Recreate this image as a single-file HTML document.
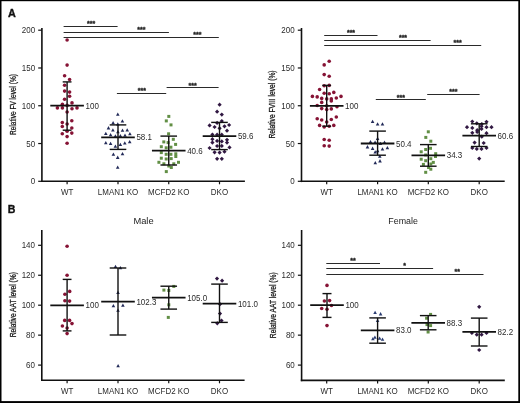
<!DOCTYPE html>
<html><head><meta charset="utf-8"><title>Figure</title>
<style>
html,body{margin:0;padding:0;background:#fff;}
body{width:520px;height:403px;overflow:hidden;}
svg{display:block;font-family:"Liberation Sans", sans-serif;filter:blur(0.3px);}
</style></head>
<body>
<svg width="520" height="403" viewBox="0 0 520 403">
<rect x="0" y="0" width="520" height="403" fill="#fff"/>
<text x="8.00" y="17.00" font-size="10.8" text-anchor="start" font-weight="bold" fill="#111" stroke="#111" stroke-width="0.35">A</text>
<text x="7.80" y="212.80" font-size="10.6" text-anchor="start" font-weight="bold" fill="#111" stroke="#111" stroke-width="0.35">B</text>
<line x1="41.90" y1="28.00" x2="41.90" y2="182.10" stroke="#111" stroke-width="1.6"/>
<line x1="41.10" y1="181.30" x2="244.90" y2="181.30" stroke="#111" stroke-width="1.6"/>
<line x1="38.20" y1="181.30" x2="41.90" y2="181.30" stroke="#111" stroke-width="1.2"/>
<text transform="translate(35.10,184.30) scale(0.93,1)" x="0" y="0" font-size="8.6" text-anchor="end" font-weight="normal" fill="#2a2a2a" >0</text>
<line x1="38.20" y1="143.53" x2="41.90" y2="143.53" stroke="#111" stroke-width="1.2"/>
<text transform="translate(35.10,146.53) scale(0.93,1)" x="0" y="0" font-size="8.6" text-anchor="end" font-weight="normal" fill="#2a2a2a" >50</text>
<line x1="38.20" y1="105.75" x2="41.90" y2="105.75" stroke="#111" stroke-width="1.2"/>
<text transform="translate(35.10,108.75) scale(0.93,1)" x="0" y="0" font-size="8.6" text-anchor="end" font-weight="normal" fill="#2a2a2a" >100</text>
<line x1="38.20" y1="67.98" x2="41.90" y2="67.98" stroke="#111" stroke-width="1.2"/>
<text transform="translate(35.10,70.98) scale(0.93,1)" x="0" y="0" font-size="8.6" text-anchor="end" font-weight="normal" fill="#2a2a2a" >150</text>
<line x1="38.20" y1="30.20" x2="41.90" y2="30.20" stroke="#111" stroke-width="1.2"/>
<text transform="translate(35.10,33.20) scale(0.93,1)" x="0" y="0" font-size="8.6" text-anchor="end" font-weight="normal" fill="#2a2a2a" >200</text>
<line x1="67.10" y1="181.30" x2="67.10" y2="184.30" stroke="#111" stroke-width="1.2"/>
<text transform="translate(67.10,194.70) scale(0.93,1)" x="0" y="0" font-size="8.6" text-anchor="middle" font-weight="normal" fill="#2a2a2a" >WT</text>
<line x1="118.00" y1="181.30" x2="118.00" y2="184.30" stroke="#111" stroke-width="1.2"/>
<text transform="translate(118.00,194.70) scale(0.93,1)" x="0" y="0" font-size="8.6" text-anchor="middle" font-weight="normal" fill="#2a2a2a" >LMAN1 KO</text>
<line x1="168.75" y1="181.30" x2="168.75" y2="184.30" stroke="#111" stroke-width="1.2"/>
<text transform="translate(168.75,194.70) scale(0.93,1)" x="0" y="0" font-size="8.6" text-anchor="middle" font-weight="normal" fill="#2a2a2a" >MCFD2 KO</text>
<line x1="219.50" y1="181.30" x2="219.50" y2="184.30" stroke="#111" stroke-width="1.2"/>
<text transform="translate(219.50,194.70) scale(0.93,1)" x="0" y="0" font-size="8.6" text-anchor="middle" font-weight="normal" fill="#2a2a2a" >DKO</text>
<text x="0" y="0" font-size="8.4" text-anchor="middle" fill="#1a1a1a" stroke="#1a1a1a" stroke-width="0.28" textLength="60.9" lengthAdjust="spacingAndGlyphs" transform="translate(15.90,104.50) rotate(-90)">Relative FV level (%)</text>
<line x1="301.50" y1="28.00" x2="301.50" y2="182.10" stroke="#111" stroke-width="1.6"/>
<line x1="300.70" y1="181.30" x2="504.70" y2="181.30" stroke="#111" stroke-width="1.6"/>
<line x1="297.80" y1="181.30" x2="301.50" y2="181.30" stroke="#111" stroke-width="1.2"/>
<text transform="translate(294.70,184.30) scale(0.93,1)" x="0" y="0" font-size="8.6" text-anchor="end" font-weight="normal" fill="#2a2a2a" >0</text>
<line x1="297.80" y1="143.53" x2="301.50" y2="143.53" stroke="#111" stroke-width="1.2"/>
<text transform="translate(294.70,146.53) scale(0.93,1)" x="0" y="0" font-size="8.6" text-anchor="end" font-weight="normal" fill="#2a2a2a" >50</text>
<line x1="297.80" y1="105.75" x2="301.50" y2="105.75" stroke="#111" stroke-width="1.2"/>
<text transform="translate(294.70,108.75) scale(0.93,1)" x="0" y="0" font-size="8.6" text-anchor="end" font-weight="normal" fill="#2a2a2a" >100</text>
<line x1="297.80" y1="67.98" x2="301.50" y2="67.98" stroke="#111" stroke-width="1.2"/>
<text transform="translate(294.70,70.98) scale(0.93,1)" x="0" y="0" font-size="8.6" text-anchor="end" font-weight="normal" fill="#2a2a2a" >150</text>
<line x1="297.80" y1="30.20" x2="301.50" y2="30.20" stroke="#111" stroke-width="1.2"/>
<text transform="translate(294.70,33.20) scale(0.93,1)" x="0" y="0" font-size="8.6" text-anchor="end" font-weight="normal" fill="#2a2a2a" >200</text>
<line x1="326.70" y1="181.30" x2="326.70" y2="184.30" stroke="#111" stroke-width="1.2"/>
<text transform="translate(326.70,194.70) scale(0.93,1)" x="0" y="0" font-size="8.6" text-anchor="middle" font-weight="normal" fill="#2a2a2a" >WT</text>
<line x1="377.60" y1="181.30" x2="377.60" y2="184.30" stroke="#111" stroke-width="1.2"/>
<text transform="translate(377.60,194.70) scale(0.93,1)" x="0" y="0" font-size="8.6" text-anchor="middle" font-weight="normal" fill="#2a2a2a" >LMAN1 KO</text>
<line x1="428.30" y1="181.30" x2="428.30" y2="184.30" stroke="#111" stroke-width="1.2"/>
<text transform="translate(428.30,194.70) scale(0.93,1)" x="0" y="0" font-size="8.6" text-anchor="middle" font-weight="normal" fill="#2a2a2a" >MCFD2 KO</text>
<line x1="479.20" y1="181.30" x2="479.20" y2="184.30" stroke="#111" stroke-width="1.2"/>
<text transform="translate(479.20,194.70) scale(0.93,1)" x="0" y="0" font-size="8.6" text-anchor="middle" font-weight="normal" fill="#2a2a2a" >DKO</text>
<text x="0" y="0" font-size="8.4" text-anchor="middle" fill="#1a1a1a" stroke="#1a1a1a" stroke-width="0.28" textLength="68.2" lengthAdjust="spacingAndGlyphs" transform="translate(275.20,104.50) rotate(-90)">Relative FVIII level (%)</text>
<line x1="63.60" y1="26.50" x2="117.60" y2="26.50" stroke="#2a2a2a" stroke-width="1.15"/>
<text x="91.20" y="26.30" font-size="7" text-anchor="middle" font-weight="bold" fill="#222" stroke="#222" stroke-width="0.3">***</text>
<line x1="63.60" y1="32.50" x2="168.90" y2="32.50" stroke="#2a2a2a" stroke-width="1.15"/>
<text x="141.40" y="31.70" font-size="7" text-anchor="middle" font-weight="bold" fill="#222" stroke="#222" stroke-width="0.3">***</text>
<line x1="63.60" y1="37.50" x2="218.80" y2="37.50" stroke="#2a2a2a" stroke-width="1.15"/>
<text x="197.40" y="36.90" font-size="7" text-anchor="middle" font-weight="bold" fill="#222" stroke="#222" stroke-width="0.3">***</text>
<line x1="116.90" y1="93.50" x2="166.20" y2="93.50" stroke="#2a2a2a" stroke-width="1.15"/>
<text x="141.80" y="93.30" font-size="7" text-anchor="middle" font-weight="bold" fill="#222" stroke="#222" stroke-width="0.3">***</text>
<line x1="166.60" y1="87.50" x2="218.60" y2="87.50" stroke="#2a2a2a" stroke-width="1.15"/>
<text x="192.60" y="87.50" font-size="7" text-anchor="middle" font-weight="bold" fill="#222" stroke="#222" stroke-width="0.3">***</text>
<line x1="324.20" y1="35.50" x2="377.50" y2="35.50" stroke="#2a2a2a" stroke-width="1.15"/>
<text x="351.00" y="34.80" font-size="7" text-anchor="middle" font-weight="bold" fill="#222" stroke="#222" stroke-width="0.3">***</text>
<line x1="324.20" y1="40.50" x2="430.60" y2="40.50" stroke="#2a2a2a" stroke-width="1.15"/>
<text x="403.00" y="39.70" font-size="7" text-anchor="middle" font-weight="bold" fill="#222" stroke="#222" stroke-width="0.3">***</text>
<line x1="324.20" y1="45.50" x2="481.20" y2="45.50" stroke="#2a2a2a" stroke-width="1.15"/>
<text x="457.60" y="45.10" font-size="7" text-anchor="middle" font-weight="bold" fill="#222" stroke="#222" stroke-width="0.3">***</text>
<line x1="375.80" y1="99.50" x2="425.80" y2="99.50" stroke="#2a2a2a" stroke-width="1.15"/>
<text x="400.80" y="99.50" font-size="7" text-anchor="middle" font-weight="bold" fill="#222" stroke="#222" stroke-width="0.3">***</text>
<line x1="427.20" y1="94.50" x2="479.60" y2="94.50" stroke="#2a2a2a" stroke-width="1.15"/>
<text x="453.40" y="94.00" font-size="7" text-anchor="middle" font-weight="bold" fill="#222" stroke="#222" stroke-width="0.3">***</text>
<circle cx="67.10" cy="40.00" r="1.8" fill="#861335"/>
<circle cx="67.10" cy="65.10" r="1.8" fill="#861335"/>
<circle cx="64.60" cy="75.70" r="1.8" fill="#861335"/>
<circle cx="69.60" cy="79.50" r="1.8" fill="#861335"/>
<circle cx="64.60" cy="85.20" r="1.8" fill="#861335"/>
<circle cx="64.60" cy="91.10" r="1.8" fill="#861335"/>
<circle cx="69.60" cy="92.10" r="1.8" fill="#861335"/>
<circle cx="69.60" cy="96.30" r="1.8" fill="#861335"/>
<circle cx="64.60" cy="99.20" r="1.8" fill="#861335"/>
<circle cx="72.00" cy="102.90" r="1.8" fill="#861335"/>
<circle cx="62.40" cy="104.20" r="1.8" fill="#861335"/>
<circle cx="67.10" cy="105.40" r="1.8" fill="#861335"/>
<circle cx="57.40" cy="107.90" r="1.8" fill="#861335"/>
<circle cx="62.40" cy="107.90" r="1.8" fill="#861335"/>
<circle cx="72.00" cy="108.70" r="1.8" fill="#861335"/>
<circle cx="77.00" cy="107.90" r="1.8" fill="#861335"/>
<circle cx="67.10" cy="112.00" r="1.8" fill="#861335"/>
<circle cx="71.80" cy="120.70" r="1.8" fill="#861335"/>
<circle cx="62.30" cy="122.60" r="1.8" fill="#861335"/>
<circle cx="67.10" cy="124.00" r="1.8" fill="#861335"/>
<circle cx="62.30" cy="126.50" r="1.8" fill="#861335"/>
<circle cx="71.80" cy="128.00" r="1.8" fill="#861335"/>
<circle cx="67.10" cy="131.30" r="1.8" fill="#861335"/>
<circle cx="62.30" cy="133.80" r="1.8" fill="#861335"/>
<circle cx="71.80" cy="133.10" r="1.8" fill="#861335"/>
<circle cx="67.10" cy="136.60" r="1.8" fill="#861335"/>
<circle cx="67.10" cy="143.30" r="1.8" fill="#861335"/>
<path d="M117.80,112.51L119.60,115.82L116.00,115.82Z" fill="#222a58"/>
<path d="M122.40,119.21L124.20,122.52L120.60,122.52Z" fill="#222a58"/>
<path d="M113.10,121.01L114.90,124.32L111.30,124.32Z" fill="#222a58"/>
<path d="M117.80,122.31L119.60,125.62L116.00,125.62Z" fill="#222a58"/>
<path d="M108.50,126.11L110.30,129.42L106.70,129.42Z" fill="#222a58"/>
<path d="M112.90,128.31L114.70,131.62L111.10,131.62Z" fill="#222a58"/>
<path d="M117.90,129.91L119.70,133.22L116.10,133.22Z" fill="#222a58"/>
<path d="M122.50,128.51L124.30,131.82L120.70,131.82Z" fill="#222a58"/>
<path d="M127.20,128.21L129.00,131.52L125.40,131.52Z" fill="#222a58"/>
<path d="M105.80,131.71L107.60,135.02L104.00,135.02Z" fill="#222a58"/>
<path d="M110.60,132.91L112.40,136.22L108.80,136.22Z" fill="#222a58"/>
<path d="M115.40,134.21L117.20,137.52L113.60,137.52Z" fill="#222a58"/>
<path d="M120.40,133.91L122.20,137.22L118.60,137.22Z" fill="#222a58"/>
<path d="M125.00,133.41L126.80,136.72L123.20,136.72Z" fill="#222a58"/>
<path d="M129.90,131.91L131.70,135.22L128.10,135.22Z" fill="#222a58"/>
<path d="M105.80,141.01L107.60,144.32L104.00,144.32Z" fill="#222a58"/>
<path d="M110.60,141.81L112.40,145.12L108.80,145.12Z" fill="#222a58"/>
<path d="M115.40,144.41L117.20,147.72L113.60,147.72Z" fill="#222a58"/>
<path d="M120.40,142.81L122.20,146.12L118.60,146.12Z" fill="#222a58"/>
<path d="M124.80,141.31L126.60,144.62L123.00,144.62Z" fill="#222a58"/>
<path d="M129.70,140.01L131.50,143.32L127.90,143.32Z" fill="#222a58"/>
<path d="M113.40,152.41L115.20,155.72L111.60,155.72Z" fill="#222a58"/>
<path d="M122.50,152.01L124.30,155.32L120.70,155.32Z" fill="#222a58"/>
<path d="M117.70,155.61L119.50,158.92L115.90,158.92Z" fill="#222a58"/>
<path d="M117.70,165.51L119.50,168.82L115.90,168.82Z" fill="#222a58"/>
<rect x="167.30" y="114.90" width="3.0" height="3.0" fill="#628f45"/>
<rect x="164.80" y="119.40" width="3.0" height="3.0" fill="#628f45"/>
<rect x="169.50" y="123.40" width="3.0" height="3.0" fill="#628f45"/>
<rect x="167.10" y="132.30" width="3.0" height="3.0" fill="#628f45"/>
<rect x="171.80" y="137.80" width="3.0" height="3.0" fill="#628f45"/>
<rect x="162.30" y="140.40" width="3.0" height="3.0" fill="#628f45"/>
<rect x="166.60" y="141.10" width="3.0" height="3.0" fill="#628f45"/>
<rect x="174.10" y="142.90" width="3.0" height="3.0" fill="#628f45"/>
<rect x="159.80" y="145.20" width="3.0" height="3.0" fill="#628f45"/>
<rect x="164.70" y="146.30" width="3.0" height="3.0" fill="#628f45"/>
<rect x="169.40" y="145.70" width="3.0" height="3.0" fill="#628f45"/>
<rect x="159.80" y="151.10" width="3.0" height="3.0" fill="#628f45"/>
<rect x="164.70" y="152.80" width="3.0" height="3.0" fill="#628f45"/>
<rect x="169.40" y="152.80" width="3.0" height="3.0" fill="#628f45"/>
<rect x="174.30" y="152.30" width="3.0" height="3.0" fill="#628f45"/>
<rect x="174.30" y="155.00" width="3.0" height="3.0" fill="#628f45"/>
<rect x="159.80" y="156.70" width="3.0" height="3.0" fill="#628f45"/>
<rect x="164.70" y="157.50" width="3.0" height="3.0" fill="#628f45"/>
<rect x="169.70" y="157.10" width="3.0" height="3.0" fill="#628f45"/>
<rect x="157.40" y="160.80" width="3.0" height="3.0" fill="#628f45"/>
<rect x="177.00" y="160.80" width="3.0" height="3.0" fill="#628f45"/>
<rect x="162.40" y="162.30" width="3.0" height="3.0" fill="#628f45"/>
<rect x="172.30" y="162.30" width="3.0" height="3.0" fill="#628f45"/>
<rect x="167.30" y="164.50" width="3.0" height="3.0" fill="#628f45"/>
<rect x="169.80" y="166.00" width="3.0" height="3.0" fill="#628f45"/>
<rect x="164.80" y="170.10" width="3.0" height="3.0" fill="#628f45"/>
<path d="M219.60,102.60L221.70,104.70L219.60,106.80L217.50,104.70Z" fill="#311842"/>
<path d="M217.10,109.60L219.20,111.70L217.10,113.80L215.00,111.70Z" fill="#311842"/>
<path d="M221.80,112.50L223.90,114.60L221.80,116.70L219.70,114.60Z" fill="#311842"/>
<path d="M221.80,119.00L223.90,121.10L221.80,123.20L219.70,121.10Z" fill="#311842"/>
<path d="M217.10,120.80L219.20,122.90L217.10,125.00L215.00,122.90Z" fill="#311842"/>
<path d="M209.60,123.30L211.70,125.40L209.60,127.50L207.50,125.40Z" fill="#311842"/>
<path d="M214.60,124.90L216.70,127.00L214.60,129.10L212.50,127.00Z" fill="#311842"/>
<path d="M224.50,124.20L226.60,126.30L224.50,128.40L222.40,126.30Z" fill="#311842"/>
<path d="M229.10,122.90L231.20,125.00L229.10,127.10L227.00,125.00Z" fill="#311842"/>
<path d="M219.60,126.20L221.70,128.30L219.60,130.40L217.50,128.30Z" fill="#311842"/>
<path d="M227.00,128.60L229.10,130.70L227.00,132.80L224.90,130.70Z" fill="#311842"/>
<path d="M212.40,132.40L214.50,134.50L212.40,136.60L210.30,134.50Z" fill="#311842"/>
<path d="M217.10,132.60L219.20,134.70L217.10,136.80L215.00,134.70Z" fill="#311842"/>
<path d="M221.80,132.60L223.90,134.70L221.80,136.80L219.70,134.70Z" fill="#311842"/>
<path d="M212.40,137.10L214.50,139.20L212.40,141.30L210.30,139.20Z" fill="#311842"/>
<path d="M217.10,138.80L219.20,140.90L217.10,143.00L215.00,140.90Z" fill="#311842"/>
<path d="M221.80,139.30L223.90,141.40L221.80,143.50L219.70,141.40Z" fill="#311842"/>
<path d="M227.00,137.70L229.10,139.80L227.00,141.90L224.90,139.80Z" fill="#311842"/>
<path d="M212.40,140.50L214.50,142.60L212.40,144.70L210.30,142.60Z" fill="#311842"/>
<path d="M227.00,140.50L229.10,142.60L227.00,144.70L224.90,142.60Z" fill="#311842"/>
<path d="M217.10,143.90L219.20,146.00L217.10,148.10L215.00,146.00Z" fill="#311842"/>
<path d="M221.80,143.80L223.90,145.90L221.80,148.00L219.70,145.90Z" fill="#311842"/>
<path d="M209.60,145.90L211.70,148.00L209.60,150.10L207.50,148.00Z" fill="#311842"/>
<path d="M229.50,145.30L231.60,147.40L229.50,149.50L227.40,147.40Z" fill="#311842"/>
<path d="M214.60,150.20L216.70,152.30L214.60,154.40L212.50,152.30Z" fill="#311842"/>
<path d="M219.60,150.50L221.70,152.60L219.60,154.70L217.50,152.60Z" fill="#311842"/>
<path d="M224.50,149.60L226.60,151.70L224.50,153.80L222.40,151.70Z" fill="#311842"/>
<path d="M217.10,156.70L219.20,158.80L217.10,160.90L215.00,158.80Z" fill="#311842"/>
<path d="M221.80,156.70L223.90,158.80L221.80,160.90L219.70,158.80Z" fill="#311842"/>
<circle cx="329.20" cy="61.20" r="1.8" fill="#861335"/>
<circle cx="324.20" cy="64.90" r="1.8" fill="#861335"/>
<circle cx="324.20" cy="74.60" r="1.8" fill="#861335"/>
<circle cx="329.20" cy="76.30" r="1.8" fill="#861335"/>
<circle cx="324.20" cy="85.70" r="1.8" fill="#861335"/>
<circle cx="329.20" cy="85.40" r="1.8" fill="#861335"/>
<circle cx="319.60" cy="89.50" r="1.8" fill="#861335"/>
<circle cx="324.20" cy="93.20" r="1.8" fill="#861335"/>
<circle cx="329.20" cy="93.70" r="1.8" fill="#861335"/>
<circle cx="333.80" cy="92.40" r="1.8" fill="#861335"/>
<circle cx="312.40" cy="96.40" r="1.8" fill="#861335"/>
<circle cx="317.20" cy="96.90" r="1.8" fill="#861335"/>
<circle cx="341.00" cy="96.40" r="1.8" fill="#861335"/>
<circle cx="336.30" cy="98.00" r="1.8" fill="#861335"/>
<circle cx="321.70" cy="98.40" r="1.8" fill="#861335"/>
<circle cx="326.70" cy="98.90" r="1.8" fill="#861335"/>
<circle cx="331.30" cy="98.90" r="1.8" fill="#861335"/>
<circle cx="331.30" cy="100.90" r="1.8" fill="#861335"/>
<circle cx="321.70" cy="102.40" r="1.8" fill="#861335"/>
<circle cx="317.20" cy="105.50" r="1.8" fill="#861335"/>
<circle cx="337.00" cy="106.70" r="1.8" fill="#861335"/>
<circle cx="326.70" cy="105.90" r="1.8" fill="#861335"/>
<circle cx="321.70" cy="108.60" r="1.8" fill="#861335"/>
<circle cx="326.70" cy="109.60" r="1.8" fill="#861335"/>
<circle cx="331.30" cy="108.90" r="1.8" fill="#861335"/>
<circle cx="317.20" cy="118.80" r="1.8" fill="#861335"/>
<circle cx="321.70" cy="120.00" r="1.8" fill="#861335"/>
<circle cx="331.30" cy="119.50" r="1.8" fill="#861335"/>
<circle cx="336.30" cy="117.00" r="1.8" fill="#861335"/>
<circle cx="326.70" cy="122.00" r="1.8" fill="#861335"/>
<circle cx="319.60" cy="125.40" r="1.8" fill="#861335"/>
<circle cx="324.20" cy="127.00" r="1.8" fill="#861335"/>
<circle cx="329.20" cy="126.20" r="1.8" fill="#861335"/>
<circle cx="333.80" cy="125.40" r="1.8" fill="#861335"/>
<circle cx="324.20" cy="139.50" r="1.8" fill="#861335"/>
<circle cx="329.20" cy="140.30" r="1.8" fill="#861335"/>
<circle cx="324.20" cy="145.80" r="1.8" fill="#861335"/>
<circle cx="329.20" cy="146.10" r="1.8" fill="#861335"/>
<path d="M372.60,119.81L374.40,123.12L370.80,123.12Z" fill="#222a58"/>
<path d="M377.60,122.31L379.40,125.62L375.80,125.62Z" fill="#222a58"/>
<path d="M382.50,122.31L384.30,125.62L380.70,125.62Z" fill="#222a58"/>
<path d="M377.60,136.81L379.40,140.12L375.80,140.12Z" fill="#222a58"/>
<path d="M370.50,140.01L372.30,143.32L368.70,143.32Z" fill="#222a58"/>
<path d="M375.10,140.51L376.90,143.82L373.30,143.82Z" fill="#222a58"/>
<path d="M384.50,140.51L386.30,143.82L382.70,143.82Z" fill="#222a58"/>
<path d="M380.40,141.71L382.20,145.02L378.60,145.02Z" fill="#222a58"/>
<path d="M367.50,145.11L369.30,148.42L365.70,148.42Z" fill="#222a58"/>
<path d="M372.60,146.61L374.40,149.92L370.80,149.92Z" fill="#222a58"/>
<path d="M382.50,147.31L384.30,150.62L380.70,150.62Z" fill="#222a58"/>
<path d="M387.40,146.01L389.20,149.32L385.60,149.32Z" fill="#222a58"/>
<path d="M375.20,150.21L377.00,153.52L373.40,153.52Z" fill="#222a58"/>
<path d="M377.60,149.01L379.40,152.32L375.80,152.32Z" fill="#222a58"/>
<path d="M379.80,154.41L381.60,157.72L378.00,157.72Z" fill="#222a58"/>
<path d="M375.30,160.91L377.10,164.22L373.50,164.22Z" fill="#222a58"/>
<path d="M380.00,159.11L381.80,162.42L378.20,162.42Z" fill="#222a58"/>
<rect x="426.80" y="130.30" width="3.0" height="3.0" fill="#628f45"/>
<rect x="424.30" y="135.90" width="3.0" height="3.0" fill="#628f45"/>
<rect x="429.30" y="139.70" width="3.0" height="3.0" fill="#628f45"/>
<rect x="429.00" y="146.80" width="3.0" height="3.0" fill="#628f45"/>
<rect x="424.20" y="148.00" width="3.0" height="3.0" fill="#628f45"/>
<rect x="419.70" y="150.30" width="3.0" height="3.0" fill="#628f45"/>
<rect x="434.20" y="152.20" width="3.0" height="3.0" fill="#628f45"/>
<rect x="434.00" y="155.00" width="3.0" height="3.0" fill="#628f45"/>
<rect x="424.20" y="153.50" width="3.0" height="3.0" fill="#628f45"/>
<rect x="419.70" y="157.70" width="3.0" height="3.0" fill="#628f45"/>
<rect x="424.20" y="159.20" width="3.0" height="3.0" fill="#628f45"/>
<rect x="429.30" y="157.20" width="3.0" height="3.0" fill="#628f45"/>
<rect x="431.80" y="160.90" width="3.0" height="3.0" fill="#628f45"/>
<rect x="421.90" y="162.90" width="3.0" height="3.0" fill="#628f45"/>
<rect x="429.30" y="162.50" width="3.0" height="3.0" fill="#628f45"/>
<rect x="427.10" y="166.00" width="3.0" height="3.0" fill="#628f45"/>
<rect x="429.30" y="167.70" width="3.0" height="3.0" fill="#628f45"/>
<rect x="424.20" y="170.80" width="3.0" height="3.0" fill="#628f45"/>
<path d="M472.30,119.40L474.40,121.50L472.30,123.60L470.20,121.50Z" fill="#311842"/>
<path d="M476.80,121.20L478.90,123.30L476.80,125.40L474.70,123.30Z" fill="#311842"/>
<path d="M481.80,122.00L483.90,124.10L481.80,126.20L479.70,124.10Z" fill="#311842"/>
<path d="M486.50,119.70L488.60,121.80L486.50,123.90L484.40,121.80Z" fill="#311842"/>
<path d="M467.00,125.10L469.10,127.20L467.00,129.30L464.90,127.20Z" fill="#311842"/>
<path d="M472.30,125.80L474.40,127.90L472.30,130.00L470.20,127.90Z" fill="#311842"/>
<path d="M481.50,124.20L483.60,126.30L481.50,128.40L479.40,126.30Z" fill="#311842"/>
<path d="M486.50,125.10L488.60,127.20L486.50,129.30L484.40,127.20Z" fill="#311842"/>
<path d="M491.50,125.10L493.60,127.20L491.50,129.30L489.40,127.20Z" fill="#311842"/>
<path d="M477.20,128.10L479.30,130.20L477.20,132.30L475.10,130.20Z" fill="#311842"/>
<path d="M481.50,126.80L483.60,128.90L481.50,131.00L479.40,128.90Z" fill="#311842"/>
<path d="M472.30,130.70L474.40,132.80L472.30,134.90L470.20,132.80Z" fill="#311842"/>
<path d="M477.20,129.90L479.30,132.00L477.20,134.10L475.10,132.00Z" fill="#311842"/>
<path d="M486.50,131.10L488.60,133.20L486.50,135.30L484.40,133.20Z" fill="#311842"/>
<path d="M481.80,134.60L483.90,136.70L481.80,138.80L479.70,136.70Z" fill="#311842"/>
<path d="M474.60,140.50L476.70,142.60L474.60,144.70L472.50,142.60Z" fill="#311842"/>
<path d="M483.70,140.90L485.80,143.00L483.70,145.10L481.60,143.00Z" fill="#311842"/>
<path d="M472.30,145.90L474.40,148.00L472.30,150.10L470.20,148.00Z" fill="#311842"/>
<path d="M476.80,146.80L478.90,148.90L476.80,151.00L474.70,148.90Z" fill="#311842"/>
<path d="M481.50,146.80L483.60,148.90L481.50,151.00L479.40,148.90Z" fill="#311842"/>
<path d="M486.50,145.90L488.60,148.00L486.50,150.10L484.40,148.00Z" fill="#311842"/>
<path d="M479.20,156.50L481.30,158.60L479.20,160.70L477.10,158.60Z" fill="#311842"/>
<line x1="67.10" y1="81.90" x2="67.10" y2="130.20" stroke="#111" stroke-width="1.4"/>
<line x1="62.70" y1="81.90" x2="71.50" y2="81.90" stroke="#111" stroke-width="1.4"/>
<line x1="62.70" y1="130.20" x2="71.50" y2="130.20" stroke="#111" stroke-width="1.4"/>
<line x1="50.30" y1="105.60" x2="83.90" y2="105.60" stroke="#111" stroke-width="1.8"/>
<text transform="translate(85.50,108.60) scale(0.93,1)" x="0" y="0" font-size="8.6" text-anchor="start" font-weight="normal" fill="#2a2a2a" >100</text>
<line x1="118.00" y1="124.90" x2="118.00" y2="149.40" stroke="#111" stroke-width="1.4"/>
<line x1="109.70" y1="124.90" x2="126.30" y2="124.90" stroke="#111" stroke-width="1.4"/>
<line x1="109.70" y1="149.40" x2="126.30" y2="149.40" stroke="#111" stroke-width="1.4"/>
<line x1="101.20" y1="137.40" x2="134.80" y2="137.40" stroke="#111" stroke-width="1.8"/>
<text transform="translate(136.40,140.40) scale(0.93,1)" x="0" y="0" font-size="8.6" text-anchor="start" font-weight="normal" fill="#2a2a2a" >58.1</text>
<line x1="168.75" y1="136.10" x2="168.75" y2="165.00" stroke="#111" stroke-width="1.4"/>
<line x1="160.45" y1="136.10" x2="177.05" y2="136.10" stroke="#111" stroke-width="1.4"/>
<line x1="160.45" y1="165.00" x2="177.05" y2="165.00" stroke="#111" stroke-width="1.4"/>
<line x1="151.95" y1="150.60" x2="185.55" y2="150.60" stroke="#111" stroke-width="1.8"/>
<text transform="translate(187.15,153.60) scale(0.93,1)" x="0" y="0" font-size="8.6" text-anchor="start" font-weight="normal" fill="#2a2a2a" >40.6</text>
<line x1="219.50" y1="122.40" x2="219.50" y2="149.60" stroke="#111" stroke-width="1.4"/>
<line x1="211.20" y1="122.40" x2="227.80" y2="122.40" stroke="#111" stroke-width="1.4"/>
<line x1="211.20" y1="149.60" x2="227.80" y2="149.60" stroke="#111" stroke-width="1.4"/>
<line x1="202.70" y1="136.10" x2="236.30" y2="136.10" stroke="#111" stroke-width="1.8"/>
<text transform="translate(237.90,139.10) scale(0.93,1)" x="0" y="0" font-size="8.6" text-anchor="start" font-weight="normal" fill="#2a2a2a" >59.6</text>
<line x1="326.70" y1="85.40" x2="326.70" y2="126.20" stroke="#111" stroke-width="1.4"/>
<line x1="322.30" y1="85.40" x2="331.10" y2="85.40" stroke="#111" stroke-width="1.4"/>
<line x1="322.30" y1="126.20" x2="331.10" y2="126.20" stroke="#111" stroke-width="1.4"/>
<line x1="309.90" y1="105.90" x2="343.50" y2="105.90" stroke="#111" stroke-width="1.8"/>
<text transform="translate(345.10,108.90) scale(0.93,1)" x="0" y="0" font-size="8.6" text-anchor="start" font-weight="normal" fill="#2a2a2a" >100</text>
<line x1="377.60" y1="131.10" x2="377.60" y2="155.20" stroke="#111" stroke-width="1.4"/>
<line x1="369.30" y1="131.10" x2="385.90" y2="131.10" stroke="#111" stroke-width="1.4"/>
<line x1="369.30" y1="155.20" x2="385.90" y2="155.20" stroke="#111" stroke-width="1.4"/>
<line x1="360.80" y1="143.50" x2="394.40" y2="143.50" stroke="#111" stroke-width="1.8"/>
<text transform="translate(396.00,146.50) scale(0.93,1)" x="0" y="0" font-size="8.6" text-anchor="start" font-weight="normal" fill="#2a2a2a" >50.4</text>
<line x1="428.30" y1="144.60" x2="428.30" y2="166.20" stroke="#111" stroke-width="1.4"/>
<line x1="420.00" y1="144.60" x2="436.60" y2="144.60" stroke="#111" stroke-width="1.4"/>
<line x1="420.00" y1="166.20" x2="436.60" y2="166.20" stroke="#111" stroke-width="1.4"/>
<line x1="411.50" y1="155.40" x2="445.10" y2="155.40" stroke="#111" stroke-width="1.8"/>
<text transform="translate(446.70,158.40) scale(0.93,1)" x="0" y="0" font-size="8.6" text-anchor="start" font-weight="normal" fill="#2a2a2a" >34.3</text>
<line x1="479.20" y1="123.80" x2="479.20" y2="146.50" stroke="#111" stroke-width="1.4"/>
<line x1="470.90" y1="123.80" x2="487.50" y2="123.80" stroke="#111" stroke-width="1.4"/>
<line x1="470.90" y1="146.50" x2="487.50" y2="146.50" stroke="#111" stroke-width="1.4"/>
<line x1="462.40" y1="135.70" x2="496.00" y2="135.70" stroke="#111" stroke-width="1.8"/>
<text transform="translate(497.60,138.70) scale(0.93,1)" x="0" y="0" font-size="8.6" text-anchor="start" font-weight="normal" fill="#2a2a2a" >60.6</text>
<text x="143.50" y="224.40" font-size="9.3" text-anchor="middle" font-weight="normal" fill="#222" >Male</text>
<text x="403.10" y="224.40" font-size="9.3" text-anchor="middle" font-weight="normal" fill="#222" textLength="29.6" lengthAdjust="spacingAndGlyphs">Female</text>
<line x1="41.80" y1="230.00" x2="41.80" y2="381.10" stroke="#111" stroke-width="1.6"/>
<line x1="41.00" y1="380.30" x2="244.60" y2="380.30" stroke="#111" stroke-width="1.6"/>
<line x1="38.10" y1="365.10" x2="41.80" y2="365.10" stroke="#111" stroke-width="1.2"/>
<text transform="translate(35.00,368.10) scale(0.93,1)" x="0" y="0" font-size="8.6" text-anchor="end" font-weight="normal" fill="#2a2a2a" >60</text>
<line x1="38.10" y1="335.15" x2="41.80" y2="335.15" stroke="#111" stroke-width="1.2"/>
<text transform="translate(35.00,338.15) scale(0.93,1)" x="0" y="0" font-size="8.6" text-anchor="end" font-weight="normal" fill="#2a2a2a" >80</text>
<line x1="38.10" y1="305.20" x2="41.80" y2="305.20" stroke="#111" stroke-width="1.2"/>
<text transform="translate(35.00,308.20) scale(0.93,1)" x="0" y="0" font-size="8.6" text-anchor="end" font-weight="normal" fill="#2a2a2a" >100</text>
<line x1="38.10" y1="275.25" x2="41.80" y2="275.25" stroke="#111" stroke-width="1.2"/>
<text transform="translate(35.00,278.25) scale(0.93,1)" x="0" y="0" font-size="8.6" text-anchor="end" font-weight="normal" fill="#2a2a2a" >120</text>
<line x1="38.10" y1="245.30" x2="41.80" y2="245.30" stroke="#111" stroke-width="1.2"/>
<text transform="translate(35.00,248.30) scale(0.93,1)" x="0" y="0" font-size="8.6" text-anchor="end" font-weight="normal" fill="#2a2a2a" >140</text>
<line x1="67.10" y1="380.30" x2="67.10" y2="383.30" stroke="#111" stroke-width="1.2"/>
<text transform="translate(67.10,394.10) scale(0.93,1)" x="0" y="0" font-size="8.6" text-anchor="middle" font-weight="normal" fill="#2a2a2a" >WT</text>
<line x1="118.00" y1="380.30" x2="118.00" y2="383.30" stroke="#111" stroke-width="1.2"/>
<text transform="translate(118.00,394.10) scale(0.93,1)" x="0" y="0" font-size="8.6" text-anchor="middle" font-weight="normal" fill="#2a2a2a" >LMAN1 KO</text>
<line x1="168.75" y1="380.30" x2="168.75" y2="383.30" stroke="#111" stroke-width="1.2"/>
<text transform="translate(168.75,394.10) scale(0.93,1)" x="0" y="0" font-size="8.6" text-anchor="middle" font-weight="normal" fill="#2a2a2a" >MCFD2 KO</text>
<line x1="219.50" y1="380.30" x2="219.50" y2="383.30" stroke="#111" stroke-width="1.2"/>
<text transform="translate(219.50,394.10) scale(0.93,1)" x="0" y="0" font-size="8.6" text-anchor="middle" font-weight="normal" fill="#2a2a2a" >DKO</text>
<text x="0" y="0" font-size="8.4" text-anchor="middle" fill="#1a1a1a" stroke="#1a1a1a" stroke-width="0.28" textLength="65.2" lengthAdjust="spacingAndGlyphs" transform="translate(15.80,304.70) rotate(-90)">Relative AAT level (%)</text>
<line x1="301.60" y1="230.00" x2="301.60" y2="381.20" stroke="#111" stroke-width="1.6"/>
<line x1="300.80" y1="380.40" x2="504.80" y2="380.40" stroke="#111" stroke-width="1.6"/>
<line x1="297.90" y1="365.10" x2="301.60" y2="365.10" stroke="#111" stroke-width="1.2"/>
<text transform="translate(294.80,368.10) scale(0.93,1)" x="0" y="0" font-size="8.6" text-anchor="end" font-weight="normal" fill="#2a2a2a" >60</text>
<line x1="297.90" y1="335.15" x2="301.60" y2="335.15" stroke="#111" stroke-width="1.2"/>
<text transform="translate(294.80,338.15) scale(0.93,1)" x="0" y="0" font-size="8.6" text-anchor="end" font-weight="normal" fill="#2a2a2a" >80</text>
<line x1="297.90" y1="305.20" x2="301.60" y2="305.20" stroke="#111" stroke-width="1.2"/>
<text transform="translate(294.80,308.20) scale(0.93,1)" x="0" y="0" font-size="8.6" text-anchor="end" font-weight="normal" fill="#2a2a2a" >100</text>
<line x1="297.90" y1="275.25" x2="301.60" y2="275.25" stroke="#111" stroke-width="1.2"/>
<text transform="translate(294.80,278.25) scale(0.93,1)" x="0" y="0" font-size="8.6" text-anchor="end" font-weight="normal" fill="#2a2a2a" >120</text>
<line x1="297.90" y1="245.30" x2="301.60" y2="245.30" stroke="#111" stroke-width="1.2"/>
<text transform="translate(294.80,248.30) scale(0.93,1)" x="0" y="0" font-size="8.6" text-anchor="end" font-weight="normal" fill="#2a2a2a" >140</text>
<line x1="326.70" y1="380.40" x2="326.70" y2="383.40" stroke="#111" stroke-width="1.2"/>
<text transform="translate(326.70,394.10) scale(0.93,1)" x="0" y="0" font-size="8.6" text-anchor="middle" font-weight="normal" fill="#2a2a2a" >WT</text>
<line x1="377.60" y1="380.40" x2="377.60" y2="383.40" stroke="#111" stroke-width="1.2"/>
<text transform="translate(377.60,394.10) scale(0.93,1)" x="0" y="0" font-size="8.6" text-anchor="middle" font-weight="normal" fill="#2a2a2a" >LMAN1 KO</text>
<line x1="428.30" y1="380.40" x2="428.30" y2="383.40" stroke="#111" stroke-width="1.2"/>
<text transform="translate(428.30,394.10) scale(0.93,1)" x="0" y="0" font-size="8.6" text-anchor="middle" font-weight="normal" fill="#2a2a2a" >MCFD2 KO</text>
<line x1="479.20" y1="380.40" x2="479.20" y2="383.40" stroke="#111" stroke-width="1.2"/>
<text transform="translate(479.20,394.10) scale(0.93,1)" x="0" y="0" font-size="8.6" text-anchor="middle" font-weight="normal" fill="#2a2a2a" >DKO</text>
<text x="0" y="0" font-size="8.4" text-anchor="middle" fill="#1a1a1a" stroke="#1a1a1a" stroke-width="0.28" textLength="65.9" lengthAdjust="spacingAndGlyphs" transform="translate(275.80,305.20) rotate(-90)">Relative AAT level (%)</text>
<line x1="326.30" y1="263.50" x2="380.00" y2="263.50" stroke="#2a2a2a" stroke-width="1.15"/>
<text x="353.10" y="262.80" font-size="7" text-anchor="middle" font-weight="bold" fill="#222" stroke="#222" stroke-width="0.3">**</text>
<line x1="326.30" y1="268.50" x2="433.10" y2="268.50" stroke="#2a2a2a" stroke-width="1.15"/>
<text x="404.70" y="268.20" font-size="7" text-anchor="middle" font-weight="bold" fill="#222" stroke="#222" stroke-width="0.3">*</text>
<line x1="326.30" y1="274.50" x2="483.50" y2="274.50" stroke="#2a2a2a" stroke-width="1.15"/>
<text x="457.30" y="273.80" font-size="7" text-anchor="middle" font-weight="bold" fill="#222" stroke="#222" stroke-width="0.3">**</text>
<circle cx="67.10" cy="246.20" r="1.8" fill="#861335"/>
<circle cx="67.10" cy="275.20" r="1.8" fill="#861335"/>
<circle cx="69.70" cy="291.40" r="1.8" fill="#861335"/>
<circle cx="64.90" cy="294.30" r="1.8" fill="#861335"/>
<circle cx="64.90" cy="300.80" r="1.8" fill="#861335"/>
<circle cx="69.60" cy="301.10" r="1.8" fill="#861335"/>
<circle cx="64.70" cy="320.40" r="1.8" fill="#861335"/>
<circle cx="69.60" cy="320.40" r="1.8" fill="#861335"/>
<circle cx="72.00" cy="323.60" r="1.8" fill="#861335"/>
<circle cx="62.40" cy="326.00" r="1.8" fill="#861335"/>
<circle cx="67.10" cy="328.00" r="1.8" fill="#861335"/>
<circle cx="67.10" cy="333.60" r="1.8" fill="#861335"/>
<path d="M115.50,264.81L117.30,268.12L113.70,268.12Z" fill="#222a58"/>
<path d="M120.40,266.01L122.20,269.32L118.60,269.32Z" fill="#222a58"/>
<path d="M118.00,290.81L119.80,294.12L116.20,294.12Z" fill="#222a58"/>
<path d="M113.40,303.91L115.20,307.22L111.60,307.22Z" fill="#222a58"/>
<path d="M122.90,303.51L124.70,306.82L121.10,306.82Z" fill="#222a58"/>
<path d="M118.00,308.51L119.80,311.82L116.20,311.82Z" fill="#222a58"/>
<path d="M118.10,364.01L119.90,367.32L116.30,367.32Z" fill="#222a58"/>
<rect x="172.30" y="284.90" width="3.0" height="3.0" fill="#628f45"/>
<rect x="162.40" y="288.60" width="3.0" height="3.0" fill="#628f45"/>
<rect x="167.30" y="289.00" width="3.0" height="3.0" fill="#628f45"/>
<rect x="167.30" y="303.30" width="3.0" height="3.0" fill="#628f45"/>
<rect x="166.80" y="315.90" width="3.0" height="3.0" fill="#628f45"/>
<path d="M217.00,276.50L219.10,278.60L217.00,280.70L214.90,278.60Z" fill="#311842"/>
<path d="M222.10,278.60L224.20,280.70L222.10,282.80L220.00,280.70Z" fill="#311842"/>
<path d="M220.00,302.10L222.10,304.20L220.00,306.30L217.90,304.20Z" fill="#311842"/>
<path d="M220.00,311.50L222.10,313.60L220.00,315.70L217.90,313.60Z" fill="#311842"/>
<path d="M221.50,318.50L223.60,320.60L221.50,322.70L219.40,320.60Z" fill="#311842"/>
<path d="M217.30,321.20L219.40,323.30L217.30,325.40L215.20,323.30Z" fill="#311842"/>
<circle cx="327.00" cy="285.40" r="1.8" fill="#861335"/>
<circle cx="324.40" cy="301.00" r="1.8" fill="#861335"/>
<circle cx="329.60" cy="300.60" r="1.8" fill="#861335"/>
<circle cx="331.50" cy="305.50" r="1.8" fill="#861335"/>
<circle cx="321.70" cy="308.50" r="1.8" fill="#861335"/>
<circle cx="327.00" cy="309.20" r="1.8" fill="#861335"/>
<circle cx="327.00" cy="325.60" r="1.8" fill="#861335"/>
<path d="M375.10,310.71L376.90,314.02L373.30,314.02Z" fill="#2b3d72"/>
<path d="M380.60,312.11L382.40,315.42L378.80,315.42Z" fill="#2b3d72"/>
<path d="M377.60,318.81L379.40,322.12L375.80,322.12Z" fill="#2b3d72"/>
<path d="M372.90,337.01L374.70,340.32L371.10,340.32Z" fill="#2b3d72"/>
<path d="M374.90,335.51L376.70,338.82L373.10,338.82Z" fill="#2b3d72"/>
<path d="M379.60,336.41L381.40,339.72L377.80,339.72Z" fill="#2b3d72"/>
<path d="M382.50,337.51L384.30,340.82L380.70,340.82Z" fill="#2b3d72"/>
<rect x="429.10" y="312.90" width="3.0" height="3.0" fill="#628f45"/>
<rect x="425.10" y="316.70" width="3.0" height="3.0" fill="#628f45"/>
<rect x="425.50" y="323.10" width="3.0" height="3.0" fill="#628f45"/>
<rect x="429.10" y="324.10" width="3.0" height="3.0" fill="#628f45"/>
<rect x="426.60" y="330.50" width="3.0" height="3.0" fill="#628f45"/>
<path d="M479.20,304.70L481.30,306.80L479.20,308.90L477.10,306.80Z" fill="#311842"/>
<path d="M471.90,330.90L474.00,333.00L471.90,335.10L469.80,333.00Z" fill="#311842"/>
<path d="M476.80,332.60L478.90,334.70L476.80,336.80L474.70,334.70Z" fill="#311842"/>
<path d="M481.60,332.60L483.70,334.70L481.60,336.80L479.50,334.70Z" fill="#311842"/>
<path d="M486.50,330.90L488.60,333.00L486.50,335.10L484.40,333.00Z" fill="#311842"/>
<path d="M479.20,347.90L481.30,350.00L479.20,352.10L477.10,350.00Z" fill="#311842"/>
<line x1="67.10" y1="279.40" x2="67.10" y2="330.90" stroke="#111" stroke-width="1.4"/>
<line x1="62.70" y1="279.40" x2="71.50" y2="279.40" stroke="#111" stroke-width="1.4"/>
<line x1="62.70" y1="330.90" x2="71.50" y2="330.90" stroke="#111" stroke-width="1.4"/>
<line x1="50.30" y1="305.40" x2="83.90" y2="305.40" stroke="#111" stroke-width="1.8"/>
<text transform="translate(85.50,308.40) scale(0.93,1)" x="0" y="0" font-size="8.6" text-anchor="start" font-weight="normal" fill="#2a2a2a" >100</text>
<line x1="118.00" y1="268.00" x2="118.00" y2="335.00" stroke="#111" stroke-width="1.4"/>
<line x1="109.70" y1="268.00" x2="126.30" y2="268.00" stroke="#111" stroke-width="1.4"/>
<line x1="109.70" y1="335.00" x2="126.30" y2="335.00" stroke="#111" stroke-width="1.4"/>
<line x1="101.20" y1="301.70" x2="134.80" y2="301.70" stroke="#111" stroke-width="1.8"/>
<text transform="translate(136.40,304.70) scale(0.93,1)" x="0" y="0" font-size="8.6" text-anchor="start" font-weight="normal" fill="#2a2a2a" >102.3</text>
<line x1="168.75" y1="286.20" x2="168.75" y2="309.10" stroke="#111" stroke-width="1.4"/>
<line x1="160.45" y1="286.20" x2="177.05" y2="286.20" stroke="#111" stroke-width="1.4"/>
<line x1="160.45" y1="309.10" x2="177.05" y2="309.10" stroke="#111" stroke-width="1.4"/>
<line x1="151.95" y1="297.60" x2="185.55" y2="297.60" stroke="#111" stroke-width="1.8"/>
<text transform="translate(187.15,300.60) scale(0.93,1)" x="0" y="0" font-size="8.6" text-anchor="start" font-weight="normal" fill="#2a2a2a" >105.0</text>
<line x1="219.50" y1="284.10" x2="219.50" y2="322.40" stroke="#111" stroke-width="1.4"/>
<line x1="211.20" y1="284.10" x2="227.80" y2="284.10" stroke="#111" stroke-width="1.4"/>
<line x1="211.20" y1="322.40" x2="227.80" y2="322.40" stroke="#111" stroke-width="1.4"/>
<line x1="202.70" y1="303.70" x2="236.30" y2="303.70" stroke="#111" stroke-width="1.8"/>
<text transform="translate(237.90,306.70) scale(0.93,1)" x="0" y="0" font-size="8.6" text-anchor="start" font-weight="normal" fill="#2a2a2a" >101.0</text>
<line x1="327.00" y1="293.60" x2="327.00" y2="317.40" stroke="#111" stroke-width="1.4"/>
<line x1="322.50" y1="293.60" x2="331.50" y2="293.60" stroke="#111" stroke-width="1.4"/>
<line x1="322.50" y1="317.40" x2="331.50" y2="317.40" stroke="#111" stroke-width="1.4"/>
<line x1="310.20" y1="305.20" x2="343.80" y2="305.20" stroke="#111" stroke-width="1.8"/>
<text transform="translate(345.40,308.20) scale(0.93,1)" x="0" y="0" font-size="8.6" text-anchor="start" font-weight="normal" fill="#2a2a2a" >100</text>
<line x1="377.60" y1="317.90" x2="377.60" y2="343.20" stroke="#111" stroke-width="1.4"/>
<line x1="369.30" y1="317.90" x2="385.90" y2="317.90" stroke="#111" stroke-width="1.4"/>
<line x1="369.30" y1="343.20" x2="385.90" y2="343.20" stroke="#111" stroke-width="1.4"/>
<line x1="360.80" y1="330.30" x2="394.40" y2="330.30" stroke="#111" stroke-width="1.8"/>
<text transform="translate(396.00,333.30) scale(0.93,1)" x="0" y="0" font-size="8.6" text-anchor="start" font-weight="normal" fill="#2a2a2a" >83.0</text>
<line x1="428.20" y1="315.60" x2="428.20" y2="329.80" stroke="#111" stroke-width="1.4"/>
<line x1="419.90" y1="315.60" x2="436.50" y2="315.60" stroke="#111" stroke-width="1.4"/>
<line x1="419.90" y1="329.80" x2="436.50" y2="329.80" stroke="#111" stroke-width="1.4"/>
<line x1="411.40" y1="322.80" x2="445.00" y2="322.80" stroke="#111" stroke-width="1.8"/>
<text transform="translate(446.60,325.80) scale(0.93,1)" x="0" y="0" font-size="8.6" text-anchor="start" font-weight="normal" fill="#2a2a2a" >88.3</text>
<line x1="479.20" y1="318.10" x2="479.20" y2="346.00" stroke="#111" stroke-width="1.4"/>
<line x1="470.90" y1="318.10" x2="487.50" y2="318.10" stroke="#111" stroke-width="1.4"/>
<line x1="470.90" y1="346.00" x2="487.50" y2="346.00" stroke="#111" stroke-width="1.4"/>
<line x1="462.40" y1="331.80" x2="496.00" y2="331.80" stroke="#111" stroke-width="1.8"/>
<text transform="translate(497.60,334.80) scale(0.93,1)" x="0" y="0" font-size="8.6" text-anchor="start" font-weight="normal" fill="#2a2a2a" >82.2</text>
<rect x="0" y="0" width="520" height="1.2" fill="#000"/>
<rect x="0" y="0" width="1.5" height="403" fill="#000"/>
<rect x="518.3" y="0" width="1.7" height="403" fill="#000"/>
<rect x="0" y="401.1" width="520" height="1.9" fill="#000"/>
</svg>
</body></html>
